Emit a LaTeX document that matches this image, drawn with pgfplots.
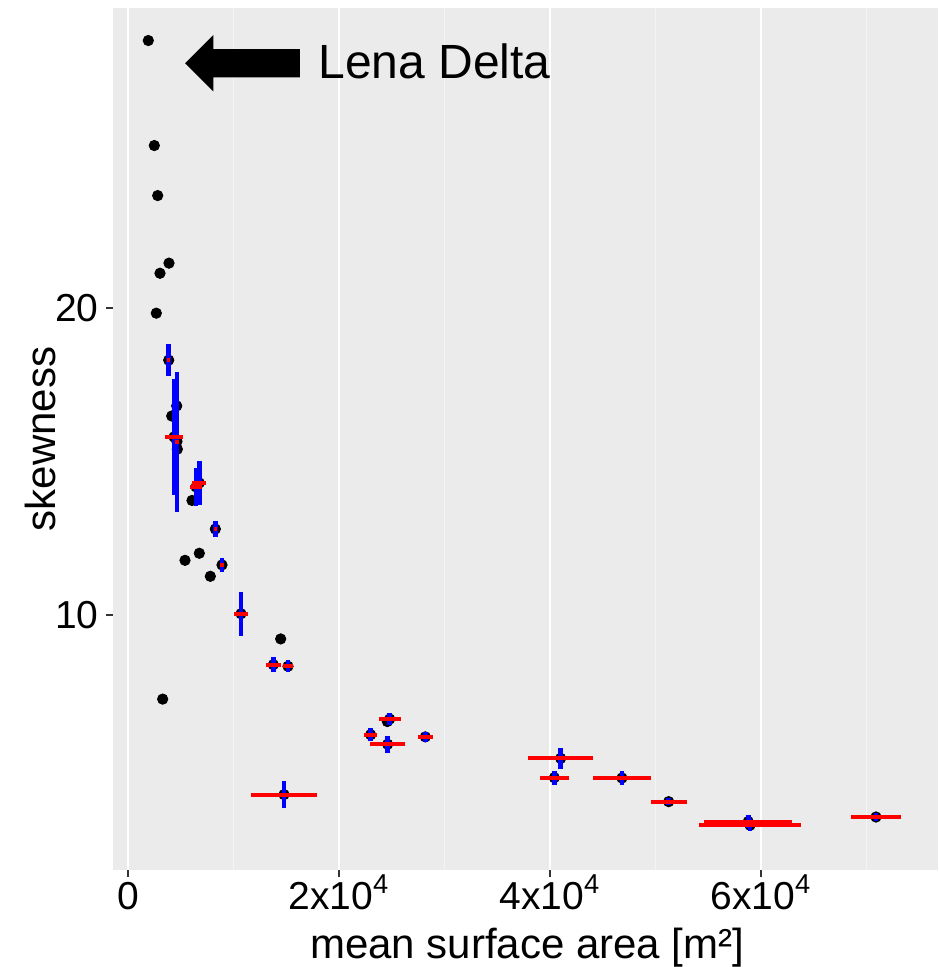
\documentclass[border=0pt]{standalone}
\usepackage{fontspec}
\setmainfont{Liberation Sans}
\usepackage{pgfplots}
\pgfplotsset{compat=1.18}
\usepackage{pgfplotstable}
\definecolor{panelbg}{RGB}{235,235,235}
\definecolor{tickgray}{RGB}{51,51,51}

\pgfplotstableread{
x y
1924 28.71
2493 25.29
2815 23.66
3886 21.46
3033 21.13
2682 19.83
4616 16.81
4142 16.48
4676 15.40
6066 13.73
6761 12.01
5403 11.78
7804 11.26
14470 9.22
3286 7.26
24580 6.53
}\blackpts

\pgfplotstableread{
x y ex ey
3858 18.30 150 0.52
4360 15.80 900 1.90
4640 15.65 200 2.28
6450 14.17 600 0.63
6760 14.30 650 0.71
8278 12.80 150 0.25
8910 11.63 150 0.23
10711 10.04 710 0.72
13775 8.38 730 0.25
15165 8.33 440 0.20
14787 4.15 3160 0.43
24806 6.61 1030 0.20
23000 6.10 630 0.22
24610 5.79 1690 0.27
28180 6.03 710 0.16
41010 5.33 3050 0.34
40410 4.70 1370 0.23
46820 4.69 2720 0.24
51250 3.92 1700 0.12
58790 3.27 4190 0.20
58960 3.15 4830 0.20
70900 3.42 2340 0.12
}\errpts

\begin{document}
\begin{tikzpicture}
\begin{axis}[
  set layers,
  scale only axis, width=412.5pt, height=431pt,
  xmin=-1422, xmax=76780, ymin=1.694, ymax=29.77,
  axis background/.style={fill=panelbg},
  axis line style={draw=none},
  tick align=outside, tick pos=left,
  major tick length=3.5pt, minor tick length=0pt,
  tick style={tickgray, line width=0.6pt},
  xtick={0,20000,40000,60000},
  xticklabels={0, 2x10\textsuperscript{4}, 4x10\textsuperscript{4}, 6x10\textsuperscript{4}},
  minor xtick={10000,30000,50000,70000},
  ytick={10,20}, yticklabels={10,20},
  xmajorgrids, xminorgrids,
  major grid style={white, line width=0.9pt},
  minor grid style={white!45!panelbg, line width=0.5pt},
  scaled x ticks=false,
  xticklabel style={font=\fontsize{19.5}{19.5}\selectfont, anchor=base, inner sep=0pt, yshift=-16pt},
  yticklabel style={font=\fontsize{19.5}{19.5}\selectfont, anchor=east, inner sep=0pt, xshift=-3.5pt},
  xlabel={mean surface area [m²]},
  ylabel={skewness},
  xlabel style={font=\fontsize{21}{21}\selectfont, at={(axis description cs:0.502,-0.1021)}, anchor=base, inner sep=0pt},
  ylabel style={font=\fontsize{21}{21}\selectfont, at={(axis description cs:-0.0703,0.5)}, anchor=base, inner sep=0pt},
  clip=false,
]
\addplot[only marks, mark=*, mark size=2.6pt, black] table[x=x,y=y]{\blackpts};
\addplot[only marks, mark=*, mark size=2.6pt, black] table[x=x,y=y]{\errpts};
\addplot[on layer=axis foreground, only marks, mark=none, error bars/.cd, y dir=both, y explicit, error mark=none,
  error bar style={blue, line width=2.3pt}] table[x=x,y=y,y error=ey]{\errpts};
\addplot[on layer=axis foreground, only marks, mark=none, error bars/.cd, x dir=both, x explicit, error mark=none,
  error bar style={red, line width=2pt}] table[x=x,y=y,x error=ex]{\errpts};
\fill[black] (axis cs:5403,27.97) -- (axis cs:8085,28.89) -- (axis cs:8085,28.43)
  -- (axis cs:16303,28.43) -- (axis cs:16303,27.51) -- (axis cs:8085,27.51)
  -- (axis cs:8085,27.05) -- cycle;
\node[anchor=west, inner sep=0pt, font=\fontsize{24}{24}\selectfont] at (axis cs:18009,28.03) {Lena Delta};
\end{axis}
\pgfresetboundingbox
\path[use as bounding box] (current axis.south west) ++(-56.5pt,-48.5pt) rectangle ++(469pt,483.5pt);
\end{tikzpicture}
\end{document}
